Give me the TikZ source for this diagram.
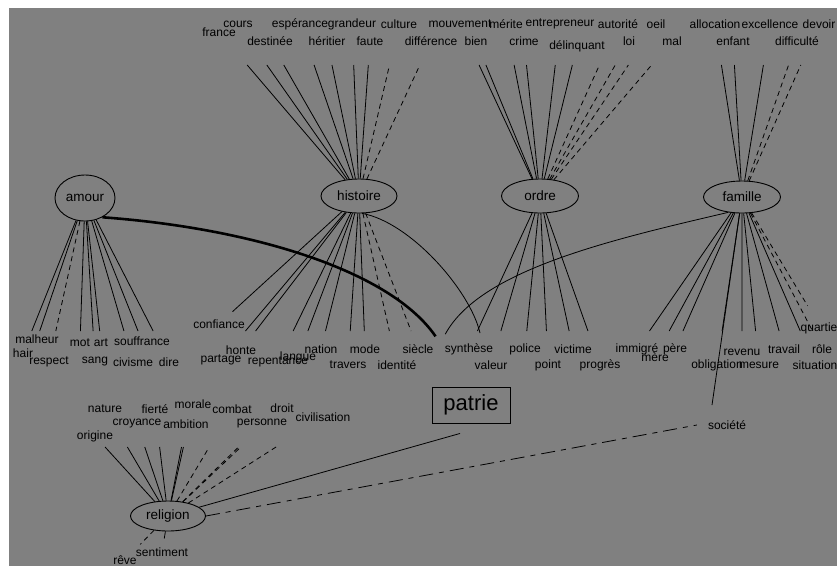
\documentclass[tikz,border=0pt]{standalone}
\usepackage{fontspec}
\setmainfont{Liberation Sans}
\usetikzlibrary{shapes.geometric,intersections}
\definecolor{bg}{RGB}{128,128,128}
\tikzset{
  word/.style={font=\fontsize{12}{12}\selectfont, inner sep=1pt, text=black},
  hub/.style={draw, ellipse, inner sep=0pt, font=\fontsize{13.5}{14}\selectfont, line width=0.9pt},
  conn/.style={line width=0.8pt},
  dconn/.style={line width=0.8pt, dash pattern=on 5pt off 4pt},
  dashdotconn/.style={line width=0.8pt, dash pattern=on 14pt off 6pt on 5pt off 6pt},
  thickconn/.style={line width=2.6pt},
}
\begin{document}
\begin{tikzpicture}[x=1pt,y=-1pt]
\useasboundingbox (0,0) rectangle (837,566);
\fill[white] (0,0) rectangle (837,566);
\fill[bg] (9,8) rectangle (837,566);

% hubs
\node[hub, minimum width=60pt, minimum height=46pt] (amour) at (85,198) {amour};
\node[hub, minimum width=76pt, minimum height=34pt] (histoire) at (359,196) {histoire};
\node[hub, minimum width=77pt, minimum height=34pt] (ordre) at (540,196) {ordre};
\node[hub, minimum width=77pt, minimum height=32pt] (famille) at (742,197) {famille};
\node[hub, minimum width=75pt, minimum height=30pt] (religion) at (168,516) {religion};
\node[draw, line width=0.9pt, minimum width=78pt, minimum height=36pt, inner sep=0pt,
      font=\fontsize{22}{24}\selectfont] (patrie) at (471,405) {patrie};

% words
\foreach \n/\x/\y/\t in {
  wfrance/219/32/france, wcours/238/24/cours, wesperance/300/24/espérance,
  wgrandeur/352/24/grandeur, wculture/399/24/culture, wdestinee/270/41/destinée,
  wheritier/327/41/héritier, wfaute/370/41/faute, wdifference/431/41/différence,
  wmouvement/460/24/mouvement, wmerite/506/24/mérite, wentrepreneur/560/24/entrepreneur,
  wautorite/618/24/autorité, woeil/656/24/oeil, wbien/476/41/bien, wcrime/524/41/crime,
  wdelinquant/577/46/délinquant, wloi/629/41/loi, wmal/672/41/mal,
  wallocation/715/24/allocation, wexcellence/770/24/excellence, wdevoir/819/24/devoir,
  wenfant/733/41/enfant, wdifficulte/797/41/difficulté,
  wmalheur/37/339/malheur, whair/23/353/hair, wrespect/49/362/respect,
  wmot/80/343/mot, wart/101/343/art, wsouffrance/142/341/souffrance,
  wsang/95/362/sang, wcivisme/133/362/civisme, wdire/169/362/dire,
  wconfiance/219/324/confiance, wpartage/221/360/partage, whonte/241/350/honte,
  wrepentance/278/362/repentance, wlangue/298/357/langue, wnation/321/349/nation,
  wmode/365/349/mode, wtravers/348/365/travers, widentite/397/365/identité,
  wsiecle/418/349/siècle, wsynthese/469/349/synthèse, wvaleur/491/365/valeur,
  wpolice/525/349/police, wpoint/548/365/point, wvictime/573/349/victime,
  wprogres/600/365/progrès, wimmigre/637/349/immigré, wmere/655/357/mère,
  wpere/675/349/père, wobligation/717/365/obligation, wrevenu/742/352/revenu,
  wmesure/759/365/mesure, wtravail/784/349/travail, wrole/822/349/rôle,
  wsituation/815/365/situation, wquartier/821/328/quartier,
  wnature/105/409/nature, wfierte/155/409/fierté, wmorale/193/404/morale,
  wcombat/232/409/combat, wdroit/282/408/droit, wcivilisation/323/417/civilisation,
  wcroyance/137/424/croyance, wambition/186/424/ambition, wpersonne/262/424/personne,
  worigine/95/436/origine, wsociete/727/425/société,
  wreve/125/560/rêve, wsentiment/162/552/sentiment}
  \node[word] (\n) at (\x,\y) {\t};

% cut lines
\path[name path global=cutT] (0,65) -- (837,65);
\path[name path global=cutB] (0,331) -- (837,331);
\path[name path global=cutR] (0,447) -- (837,447);

% top fans
\foreach \w/\h/\s in {
  wfrance/histoire/conn, wcours/histoire/conn, wdestinee/histoire/conn,
  wesperance/histoire/conn, wheritier/histoire/conn, wgrandeur/histoire/conn,
  wfaute/histoire/conn, wculture/histoire/dconn, wdifference/histoire/dconn,
  wmouvement/ordre/conn, wbien/ordre/conn, wmerite/ordre/conn, wcrime/ordre/conn,
  wentrepreneur/ordre/conn, wdelinquant/ordre/conn, wautorite/ordre/dconn,
  wloi/ordre/dconn, woeil/ordre/dconn, wmal/ordre/dconn,
  wallocation/famille/conn, wenfant/famille/conn, wexcellence/famille/conn,
  wdifficulte/famille/dconn, wdevoir/famille/dconn}
  {
  \path[name path=ln] (\h.center) -- (\w.center);
  \draw[\s, name intersections={of=cutT and ln, by=xx}] (\h) -- (xx);
  }

% religion top fan
\foreach \w/\s in {
  worigine/conn, wnature/conn, wcroyance/conn, wfierte/conn, wambition/conn,
  wmorale/conn, wcombat/dconn, wpersonne/dconn, wdroit/dconn, wcivilisation/dconn}
  {
  \path[name path=ln] (religion.center) -- (\w.center);
  \draw[\s, name intersections={of=cutR and ln, by=xx}] (religion) -- (xx);
  }

% bottom fans, cut at a common level
\foreach \w/\h/\s in {
  wmalheur/amour/conn, whair/amour/conn, wrespect/amour/dconn, wmot/amour/conn,
  wart/amour/conn, wsang/amour/conn, wsouffrance/amour/conn, wcivisme/amour/conn,
  wdire/amour/conn,
  wpartage/histoire/conn, whonte/histoire/conn,
  wrepentance/histoire/conn, wlangue/histoire/conn, wnation/histoire/conn,
  wtravers/histoire/conn, wmode/histoire/conn, widentite/histoire/dconn,
  wsiecle/histoire/dconn,
  wsynthese/ordre/conn, wvaleur/ordre/conn, wpolice/ordre/conn, wpoint/ordre/conn,
  wvictime/ordre/conn, wprogres/ordre/conn,
  wimmigre/famille/conn, wmere/famille/conn, wpere/famille/conn,
  wobligation/famille/conn, wrevenu/famille/conn, wmesure/famille/conn,
  wtravail/famille/conn, wrole/famille/dconn, wsituation/famille/conn}
  {
  \path[name path=ln] (\h.center) -- (\w.center);
  \draw[\s, name intersections={of=cutB and ln, by=xx}] (\h) -- (xx);
  }
\draw[conn, shorten >=10pt] (histoire) -- (wconfiance);
\draw[dconn, shorten >=18pt] (famille) -- (wquartier);

% religion bottom
\draw[dconn, shorten >=14pt] (religion) -- (wreve);
\draw[conn, shorten >=8pt] (religion) -- (wsentiment);

% cross links
\draw[thickconn] (amour.-48) .. controls (250,228) and (390,270) .. ([xshift=1pt,yshift=7pt]wsiecle.north east);
\draw[conn] (famille.-132) .. controls (610,240) and (480,270) .. ([xshift=1.5pt,yshift=8pt]wsynthese.north west);
\draw[conn] (histoire.-80) .. controls (410,222) and (470,290) .. ([shift={(-11pt,32pt)}]wvaleur.center);
\draw[conn] (religion) -- ([shift={(-11pt,-10pt)}]patrie.south);
\draw[dashdotconn] (religion.east) -- ([xshift=-10pt]wsociete.west);
\draw[conn] (famille) -- ([shift={(-15pt,20pt)}]wsociete.center);
\end{tikzpicture}
\end{document}
